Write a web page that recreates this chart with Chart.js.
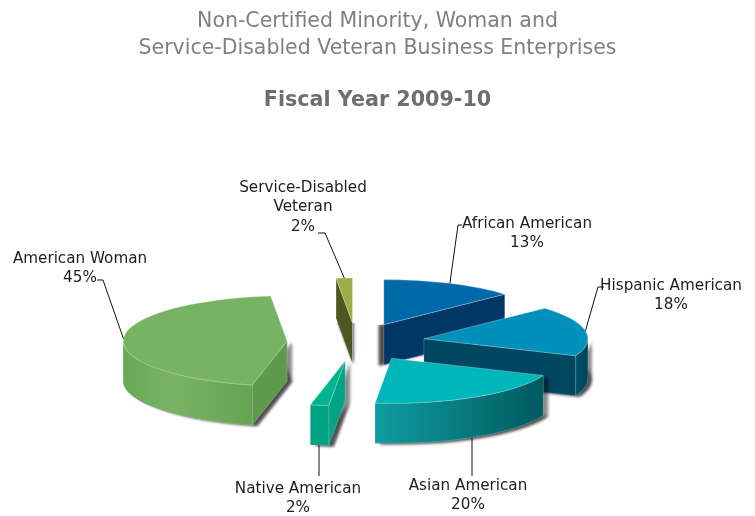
<!DOCTYPE html>
<html>
<head>
<meta charset="utf-8">
<title>Fiscal Year 2009-10</title>
<script src="https://cdn.jsdelivr.net/npm/chart.js@4"></script>
<style>
  html, body { margin: 0; padding: 0; background: #fff; }
  #wrap { width: 755px; height: 516px; }
</style>
</head>
<body>
<div id="wrap"><canvas id="pieChart" width="755" height="516"></canvas></div>
<script>
const categories = ['African American', 'Hispanic American', 'Asian American', 'Native American', 'American Woman', ['Service-Disabled', 'Veteran']];
// shares before rounding
const shares = [13.2, 18, 20.4, 1.8, 45, 1.6];

const titleLines = ['Non-Certified Minority, Woman and', 'Service-Disabled Veteran Business Enterprises'];
const subtitleText = 'Fiscal Year 2009-10';

const topColors = ['#0069a9', '#0090bb', '#00b6ba', '#00b48e', '#78b363', '#9dad49'];
const radialColors = ['#003764', '#00475f', '#005a5e', '#00a383', '#5f994c', '#4c5820'];
const rimColors = [
  ['#003764', '#003764'],
  ['#00526d', '#004259'],
  ['#0f9da1', '#005a5e'],
  ['#00a384', '#00a384'],
  ['#69a957', '#65a352'],
  ['#4c5820', '#4c5820']
];
const shadowShift = [-5, 4, 5, 5, 5, 1];

// projection of the flat pie into the tilted view
const PIE_CX = 356;
const PIE_CY = 342;
const PIE_RADIUS = 164;
const TILT = 0.275;
const DEPTH = 40;
const EXPLODE = 69;

// label centres and leader elbows; one elbow means a straight drop from the rim
const labelSpots = [[527, 224], [671, 286], [468, 486], [298, 489], [80, 259], [303, 188]];
const elbows = [[[458, 225], [462, 225]], [[598, 287], [604, 287]], [[472, 476]], [[319, 476]], [[103, 280], [97, 280]], [[325, 233], [318, 233]]];
const LINE_GAP = 19.5;

function sliceCenter(arc) {
  const mid = (arc.startAngle + arc.endAngle) / 2;
  return { x: PIE_CX + EXPLODE * Math.cos(mid), y: PIE_CY + TILT * EXPLODE * Math.sin(mid) };
}

function radialWall(ctx, c, angle) {
  const px = c.x + PIE_RADIUS * Math.cos(angle);
  const py = c.y + PIE_RADIUS * TILT * Math.sin(angle);
  ctx.beginPath();
  ctx.moveTo(c.x, c.y);
  ctx.lineTo(px, py);
  ctx.lineTo(px, py + DEPTH);
  ctx.lineTo(c.x, c.y + DEPTH);
  ctx.closePath();
}

function rimWall(ctx, c, a1, a2) {
  const ry = PIE_RADIUS * TILT;
  ctx.beginPath();
  ctx.ellipse(c.x, c.y, PIE_RADIUS, ry, 0, a1, a2);
  ctx.ellipse(c.x, c.y + DEPTH, PIE_RADIUS, ry, 0, a2, a1, true);
  ctx.closePath();
}

function basePath(ctx, c, arc) {
  const ry = PIE_RADIUS * TILT;
  ctx.beginPath();
  ctx.moveTo(c.x, c.y + DEPTH);
  ctx.ellipse(c.x, c.y + DEPTH, PIE_RADIUS, ry, 0, arc.startAngle, arc.endAngle);
  ctx.closePath();
}

function drawSlice(chart, arc, i) {
  const ctx = chart.ctx;
  const c = sliceCenter(arc);
  const startNormal = Math.sin(arc.startAngle - Math.PI / 2);
  const endNormal = Math.sin(arc.endAngle + Math.PI / 2);
  const frontFrom = Math.max(arc.startAngle, 0);
  const frontTo = Math.min(arc.endAngle, Math.PI);
  const hasRim = frontTo > frontFrom;

  const faces = [];
  if (startNormal > 0) faces.push({ build: () => radialWall(ctx, c, arc.startAngle), fill: radialColors[i] });
  if (endNormal > 0) faces.push({ build: () => radialWall(ctx, c, arc.endAngle), fill: radialColors[i] });
  if (hasRim) {
    const x1 = c.x + PIE_RADIUS * Math.cos(frontTo);
    const x2 = c.x + PIE_RADIUS * Math.cos(frontFrom);
    const grad = ctx.createLinearGradient(x1, 0, x2, 0);
    grad.addColorStop(0, rimColors[i][0]);
    if (i === 4) grad.addColorStop(0.4, '#78b363');
    grad.addColorStop(1, rimColors[i][1]);
    faces.push({ build: () => rimWall(ctx, c, frontFrom, frontTo), fill: grad });
  }

  // soft shadow, only below the level of the slice tip
  ctx.save();
  ctx.beginPath();
  ctx.rect(0, c.y, chart.width, chart.height);
  ctx.clip();
  ctx.shadowColor = 'rgba(0,0,0,0.45)';
  ctx.shadowBlur = 3;
  ctx.shadowOffsetX = shadowShift[i];
  ctx.shadowOffsetY = 1;
  ctx.fillStyle = '#888';
  basePath(ctx, c, arc);
  ctx.fill();
  faces.forEach(f => { f.build(); ctx.fill(); });
  ctx.restore();

  ctx.save();
  faces.forEach(f => {
    f.build();
    ctx.fillStyle = f.fill;
    ctx.fill();
    ctx.strokeStyle = 'rgba(255,255,255,0.25)';
    ctx.lineWidth = 0.7;
    ctx.stroke();
  });
  ctx.restore();

  // the top face is the library's own arc, flattened
  ctx.save();
  ctx.translate(c.x, c.y);
  ctx.scale(1, TILT);
  ctx.translate(-arc.x, -arc.y);
  arc.draw(ctx);
  ctx.restore();
}

const tiltedPie = {
  id: 'tiltedPie',
  beforeDatasetDraw(chart) {
    const arcs = chart.getDatasetMeta(0).data;
    const order = arcs.map((arc, i) => i).sort((a, b) => sliceCenter(arcs[a]).y - sliceCenter(arcs[b]).y);
    order.forEach(i => drawSlice(chart, arcs[i], i));
    return false;
  },
  afterDraw(chart) {
    const ctx = chart.ctx;
    const arcs = chart.getDatasetMeta(0).data;
    ctx.save();
    arcs.forEach((arc, i) => {
      const c = sliceCenter(arc);
      const mid = (arc.startAngle + arc.endAngle) / 2;
      let ax = c.x + PIE_RADIUS * Math.cos(mid);
      let ay = c.y + PIE_RADIUS * TILT * Math.sin(mid);
      if (elbows[i].length === 1) {
        // front slices: drop straight down from the bottom of the rim
        ax = elbows[i][0][0];
        const u = (ax - c.x) / PIE_RADIUS;
        ay = c.y + PIE_RADIUS * TILT * Math.sqrt(1 - u * u) + DEPTH;
      }

      ctx.beginPath();
      ctx.moveTo(ax, ay);
      elbows[i].forEach(p => ctx.lineTo(p[0], p[1]));
      ctx.strokeStyle = '#111';
      ctx.lineWidth = 1;
      ctx.stroke();

      const name = [].concat(categories[i]);
      const lines = name.concat(Math.round(shares[i]) + '%');
      ctx.font = '15.2px "DejaVu Sans"';
      ctx.fillStyle = '#1c1c1c';
      ctx.textAlign = 'center';
      ctx.textBaseline = 'middle';
      lines.forEach((line, k) => ctx.fillText(line, labelSpots[i][0], labelSpots[i][1] + k * LINE_GAP));
    });
    ctx.restore();
  }
};

new Chart(document.getElementById('pieChart'), {
  type: 'pie',
  data: {
    labels: categories,
    datasets: [{
      data: shares,
      backgroundColor: topColors,
      borderColor: 'rgba(255,255,255,0.45)',
      borderWidth: 1
    }]
  },
  options: {
    responsive: false,
    animation: false,
    events: [],
    radius: PIE_RADIUS,
    plugins: {
      legend: { display: false },
      tooltip: { enabled: false },
      title: {
        display: true,
        text: titleLines,
        color: '#808080',
        font: { family: '"DejaVu Sans"', size: 20.5, weight: 'normal', lineHeight: 1.32 },
        padding: { top: 8, bottom: 10 }
      },
      subtitle: {
        display: true,
        text: subtitleText,
        color: '#6e6e6e',
        font: { family: '"DejaVu Sans"', size: 20.7, weight: 'bold' },
        padding: { top: 16, bottom: 10 }
      }
    }
  },
  plugins: [tiltedPie]
});
</script>
</body>
</html>
